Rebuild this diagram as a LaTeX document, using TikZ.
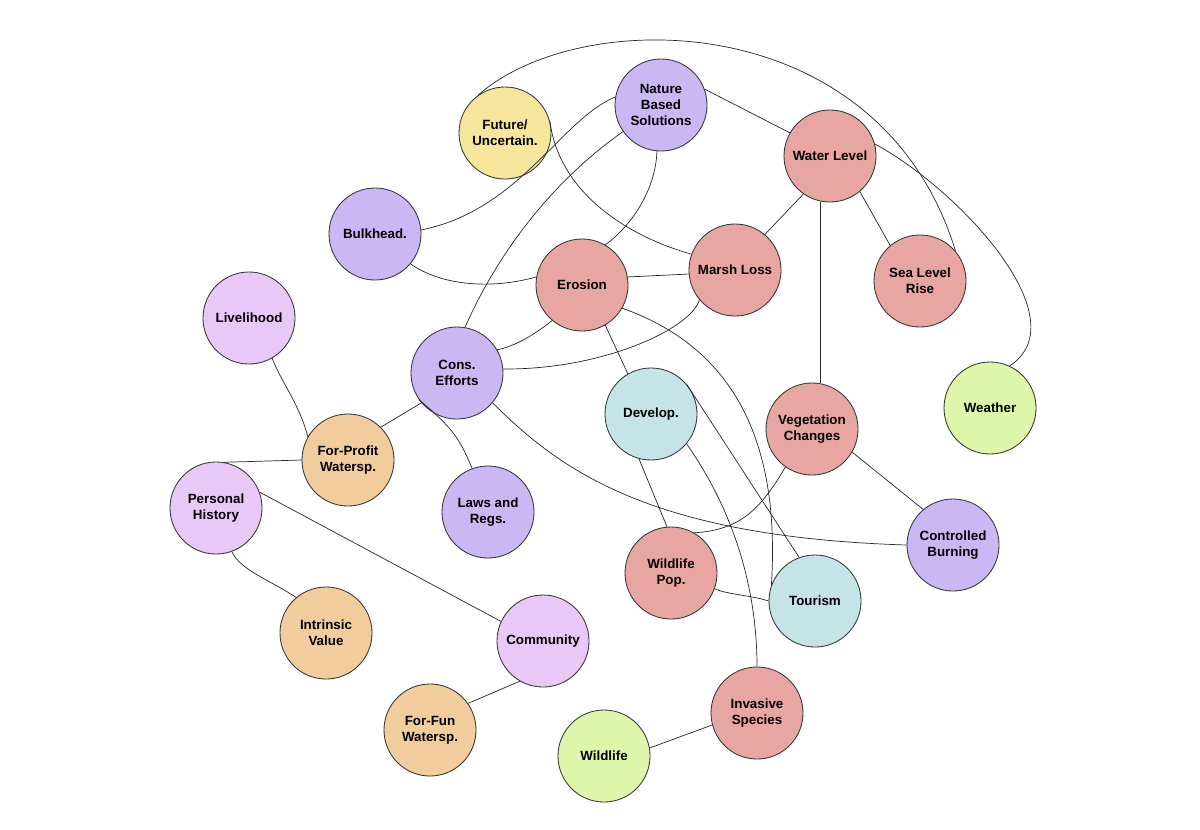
\documentclass[tikz,border=0pt]{standalone}
\usepackage{fontspec}
\setmainfont{Liberation Sans}
\begin{document}
\begin{tikzpicture}[x=0.025cm,y=-0.025cm,
  c/.style={circle,draw=black!80,line width=0.6pt,minimum size=2.3cm,inner sep=0pt,align=center,font=\bfseries\fontsize{9.5}{11.5}\selectfont},
  e/.style={line width=0.5pt,black!85}]
\useasboundingbox (0,0) rectangle (1200,829);
\definecolor{pu}{HTML}{C9B8F3}\definecolor{rd}{HTML}{E8A6A3}\definecolor{ye}{HTML}{F8E59C}
\definecolor{pk}{HTML}{E8C8F6}\definecolor{or}{HTML}{F1CD9E}\definecolor{bl}{HTML}{C4E4E8}\definecolor{gr}{HTML}{DDF6A9}
\node[c,fill=ye] (fut) at (505,133) {Future/\\Uncertain.};
\node[c,fill=pu] (nat) at (661,105) {Nature\\Based\\Solutions};
\node[c,fill=rd] (wl) at (830,156) {Water Level};
\node[c,fill=pu] (bul) at (375,234) {Bulkhead.};
\node[c,fill=rd] (ero) at (582,285) {Erosion};
\node[c,fill=rd] (ml) at (735,270) {Marsh Loss};
\node[c,fill=rd] (slr) at (920,281) {Sea Level\\Rise};
\node[c,fill=pk] (liv) at (249,318) {Livelihood};
\node[c,fill=pu] (con) at (457,373) {Cons.\\Efforts};
\node[c,fill=gr] (wea) at (990,408) {Weather};
\node[c,fill=bl] (dev) at (651,414) {Develop.};
\node[c,fill=rd] (veg) at (812,429) {Vegetation\\Changes};
\node[c,fill=or] (fp) at (348,460) {For-Profit\\Watersp.};
\node[c,fill=pk] (ph) at (216,508) {Personal\\History};
\node[c,fill=pu] (law) at (488,512) {Laws and\\Regs.};
\node[c,fill=pu] (cb) at (953,545) {Controlled\\Burning};
\node[c,fill=rd] (wp) at (671,573) {Wildlife\\Pop.};
\node[c,fill=bl] (tou) at (815,601) {Tourism};
\node[c,fill=or] (iv) at (326,633) {Intrinsic\\Value};
\node[c,fill=pk] (com) at (543,641) {Community};
\node[c,fill=or] (ff) at (430,730) {For-Fun\\Watersp.};
\node[c,fill=rd] (inv) at (757,713) {Invasive\\Species};
\node[c,fill=gr] (wil) at (604,756) {Wildlife};
\begin{scope}[e]
\draw (fut.125) .. controls (580,5) and (880,5) .. (slr.40);
\draw (fut.15) .. controls (560,200) and (640,240) .. (ml.160);
\draw (nat.20) -- (wl.150);
\draw (wl.235) -- (ml.50);
\draw (wl.310) -- (slr.130);
\draw (veg.80) -- (veg.80 |- wl.south);
\draw (wl.15) .. controls (960,190) and (1080,320) .. (wea.65);
\draw (bul.5) .. controls (520,210) and (560,120) .. (nat.170);
\draw (nat.215) .. controls (540,190) and (490,270) .. (con.80);
\draw (nat.265) .. controls (655,200) and (620,235) .. (ero.60);
\draw (bul.320) .. controls (440,285) and (490,290) .. (ero.170);
\draw (ero.10) -- (ml.185);
\draw (ero.230) .. controls (540,330) and (520,345) .. (con.30);
\draw (ml.220) .. controls (690,330) and (600,370) .. (con.5);
\draw (ero.300) -- (dev.120);
\draw (ero.330) .. controls (740,350) and (780,450) .. (tou.160);
\draw (dev.40) -- (tou.110);
\draw (dev.320) .. controls (740,520) and (757,600) .. (inv.90);
\draw (dev.255) -- (wp.95);
\draw (veg.235) .. controls (760,510) and (740,530) .. (wp.60);
\draw (veg.330) -- (cb.130);
\draw (wp.340) .. controls (730,595) and (750,595) .. (tou.180);
\draw (con.320) .. controls (560,470) and (650,537) .. (cb.180);
\draw (con.215) .. controls (455,430) and (460,440) .. (law.110);
\draw (con.220) -- (fp.45);
\draw (liv.300) .. controls (280,380) and (300,405) .. (fp.150);
\draw (fp.180) -- (ph.80);
\draw (ph.290) .. controls (240,570) and (270,580) .. (iv.130);
\draw (ph.20) -- (com.155);
\draw (com.240) -- (ff.35);
\draw (wil.10) -- (inv.195);
\end{scope}
\end{tikzpicture}
\end{document}
